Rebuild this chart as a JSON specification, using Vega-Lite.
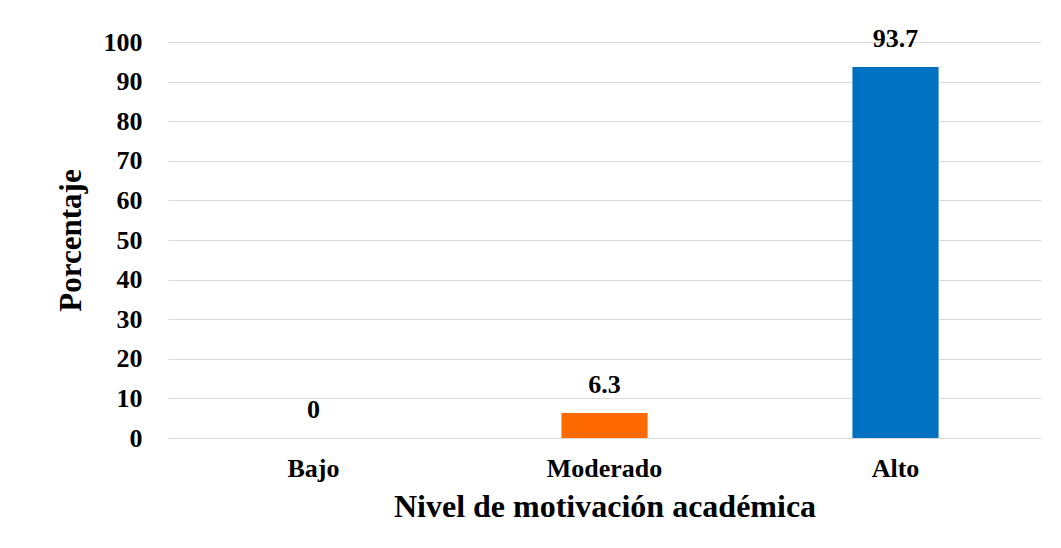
{
  "$schema": "https://vega.github.io/schema/vega-lite/v6.json",
  "width": 873,
  "height": 396,
  "autosize": {"type": "none"},
  "padding": {"left": 168, "top": 42, "right": 20, "bottom": 110},
  "background": "white",
  "config": {
    "view": {"stroke": null},
    "font": "Liberation Serif"
  },
  "data": {
    "values": [
      {"nivel": "Bajo", "porcentaje": 0},
      {"nivel": "Moderado", "porcentaje": 6.3},
      {"nivel": "Alto", "porcentaje": 93.7}
    ]
  },
  "encoding": {
    "x": {
      "field": "nivel",
      "type": "nominal",
      "sort": ["Bajo", "Moderado", "Alto"],
      "scale": {"paddingInner": 0, "paddingOuter": 0},
      "axis": {
        "title": "Nivel de motivación académica",
        "titleFont": "Liberation Serif",
        "titleFontSize": 32,
        "titleFontWeight": "bold",
        "titleColor": "#000000",
        "titlePadding": 10,
        "labelFont": "Liberation Serif",
        "labelFontSize": 26,
        "labelFontWeight": "bold",
        "labelColor": "#000000",
        "labelAngle": 0,
        "labelPadding": 17,
        "ticks": false,
        "domain": false
      }
    },
    "y": {
      "field": "porcentaje",
      "type": "quantitative",
      "scale": {"domain": [0, 100], "nice": false},
      "axis": {
        "title": "Porcentaje",
        "values": [0, 10, 20, 30, 40, 50, 60, 70, 80, 90, 100],
        "titleFont": "Liberation Serif",
        "titleFontSize": 31,
        "titleFontWeight": "bold",
        "titleColor": "#000000",
        "titlePadding": 16,
        "labelFont": "Liberation Serif",
        "labelFontSize": 26,
        "labelFontWeight": "bold",
        "labelColor": "#000000",
        "labelPadding": 26,
        "ticks": false,
        "domain": false,
        "gridColor": "#d9d9d9",
        "gridWidth": 1
      }
    }
  },
  "layer": [
    {
      "mark": {"type": "bar", "width": {"band": 0.296}},
      "encoding": {
        "color": {
          "field": "nivel",
          "type": "nominal",
          "scale": {"domain": ["Bajo", "Moderado", "Alto"], "range": ["#A5A5A5", "#FF6A00", "#0070C0"]},
          "legend": null
        }
      }
    },
    {
      "mark": {"type": "text", "baseline": "middle", "dy": -28, "font": "Liberation Serif", "fontSize": 26, "fontWeight": "bold", "color": "#000000"},
      "encoding": {
        "text": {"field": "porcentaje", "type": "quantitative"}
      }
    }
  ]
}
